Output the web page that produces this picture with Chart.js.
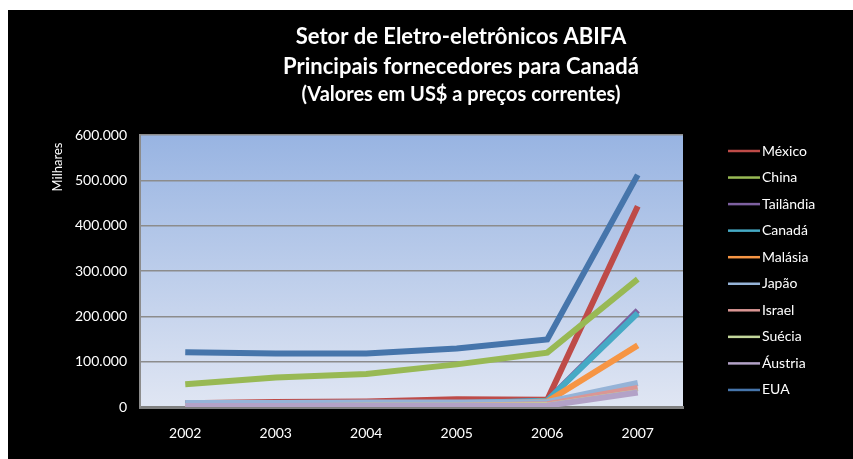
<!DOCTYPE html>
<html>
<head>
<meta charset="utf-8">
<script src="https://cdn.jsdelivr.net/npm/chart.js@4"></script>
<style>
  html, body { margin: 0; padding: 0; background: #fff; }
  #quadro { position: absolute; left: 8px; top: 10px; width: 845px; height: 449px; background: #000; }
  #grafico { display: block; }
</style>
</head>
<body>
<div id="quadro"><canvas id="grafico" width="845" height="449"></canvas></div>
<script>
// dados (valores em milhares de US$)
const anos = ['2002', '2003', '2004', '2005', '2006', '2007'];
const paises = ['México', 'China', 'Tailândia', 'Canadá', 'Malásia', 'Japão', 'Israel', 'Suécia', 'Áustria', 'EUA'];

const mexico    = [8000, 11000, 12000, 17000, 16000, 443000];
const china     = [50000, 65000, 73000, 94000, 120000, 282000];
const tailandia = [5000, 5000, 6000, 7000, 14000, 213000];
const canada    = [6000, 6000, 7000, 8000, 14000, 207000];
const malasia   = [3000, 3000, 4000, 5000, 12000, 136000];
const japao     = [9000, 9000, 10000, 10000, 11000, 53000];
const israel    = [2000, 2000, 3000, 3000, 6000, 42000];
const suecia    = [6000, 6000, 7000, 7000, 8000, 37000];
const austria   = [2000, 2000, 2000, 2000, 3000, 32000];
const eua       = [121000, 118000, 118000, 129000, 149000, 512000];

const valores = [mexico, china, tailandia, canada, malasia, japao, israel, suecia, austria, eua];
const cores = ['#BE4B48', '#98B954', '#7D60A0', '#46AAC5', '#F69544', '#95B3D7', '#DA9694', '#C3D69B', '#B3A2C7', '#4675AB'];
const espessuras = [6, 6, 6, 6, 6, 6, 6, 2, 6, 6];

const titulo = ['Setor de Eletro-eletrônicos ABIFA', 'Principais fornecedores para Canadá', '(Valores em US$ a preços correntes)'];

// formata 600000 como 600.000
function formatarMilhar(v) {
    return String(v).replace(/\B(?=(\d{3})+(?!\d))/g, '.');
}

// fundo em degradê da área do gráfico
const fundoPlot = {
    id: 'fundoPlot',
    beforeDraw(chart) {
        const { ctx, chartArea: a } = chart;
        const g = ctx.createLinearGradient(0, a.top, 0, a.bottom);
        g.addColorStop(0, '#98B4E2');
        g.addColorStop(1, '#E0E6F3');
        ctx.save();
        ctx.fillStyle = g;
        ctx.fillRect(a.left, a.top, a.right - a.left, a.bottom - a.top);
        ctx.restore();
    }
};

// título, rótulo "Milhares" e legenda desenhados à mão
const textos = {
    id: 'textos',
    afterDraw(chart) {
        const ctx = chart.ctx;
        ctx.save();
        ctx.fillStyle = '#ffffff';
        ctx.textAlign = 'center';
        ctx.textBaseline = 'middle';
        ctx.font = 'bold 22px Lato';
        ctx.fillText(titulo[0], 453, 27);
        ctx.fillText(titulo[1], 453, 57);
        ctx.font = 'bold 20px Lato';
        ctx.fillText(titulo[2], 453, 85);

        // rótulo do eixo Y
        ctx.save();
        ctx.translate(50, 157);
        ctx.rotate(-Math.PI / 2);
        ctx.font = '13px Lato';
        ctx.fillText('Milhares', 0, 0);
        ctx.restore();

        // legenda
        ctx.textAlign = 'left';
        ctx.font = '14px Lato';
        chart.data.datasets.forEach(function (ds, i) {
            const y = 141 + i * 26.55;
            ctx.strokeStyle = ds.borderColor;
            ctx.lineWidth = 2.5;
            ctx.beginPath();
            ctx.moveTo(720, y);
            ctx.lineTo(752, y);
            ctx.stroke();
            ctx.fillStyle = '#ffffff';
            ctx.fillText(ds.label, 754, y);
        });
        ctx.restore();
    }
};

const ctx = document.getElementById('grafico').getContext('2d');
new Chart(ctx, {
    type: 'line',
    data: {
        labels: anos,
        datasets: paises.map(function (p, i) {
            return {
                label: p,
                data: valores[i],
                borderColor: cores[i],
                backgroundColor: cores[i],
                borderWidth: espessuras[i],
                pointRadius: 0,
                tension: 0,
                order: paises.length - i // séries posteriores por cima, como no Excel
            };
        })
    },
    options: {
        responsive: false,
        animation: false,
        layout: { padding: { top: 125, right: 170, left: 0, bottom: 0 } },
        plugins: {
            legend: { display: false },
            title: { display: false },
            tooltip: { enabled: false }
        },
        scales: {
            x: {
                offset: true,
                grid: { display: false, drawTicks: false },
                border: { color: '#808080', width: 3 },
                ticks: { color: '#ffffff', font: { family: 'Lato', size: 14 }, padding: 18, maxRotation: 0 },
                afterFit(scale) { scale.height = 52; }
            },
            y: {
                min: 0,
                max: 600000,
                ticks: {
                    stepSize: 100000,
                    color: '#ffffff',
                    font: { family: 'Lato', size: 14 },
                    padding: 13,
                    callback: function (v) { return formatarMilhar(v); }
                },
                grid: { color: '#8C8C8C', lineWidth: 1.5, drawTicks: false },
                border: { color: '#8C8C8C', width: 2 },
                afterFit(scale) { scale.width = 132; }
            }
        }
    },
    plugins: [fundoPlot, textos]
});
</script>
</body>
</html>
